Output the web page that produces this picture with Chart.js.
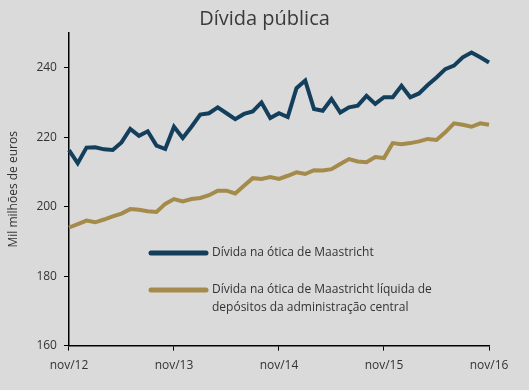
<!DOCTYPE html>
<html>
<head>
<meta charset="utf-8">
<script src="https://cdn.jsdelivr.net/npm/chart.js@4/dist/chart.umd.min.js"></script>
<style>
  html, body { margin: 0; padding: 0; background: #dadada; }
  #wrap { position: relative; width: 529px; height: 390px; }
  #title {
    position: absolute; left: 0; top: 6px; width: 529px;
    text-align: center; font: 20px/24px 'Open Sans', 'DejaVu Sans', sans-serif; color: #3a3a3a;
  }
</style>
</head>
<body>
<div id="wrap">
  <canvas id="chart0" width="529" height="390"></canvas>
  <div id="title">Dívida pública</div>
</div>
<script>
let ctx = document.getElementById("chart0").getContext("2d");

// monthly, nov/12 .. nov/16
const months = ["jan", "fev", "mar", "abr", "mai", "jun", "jul", "ago", "set", "out", "nov", "dez"];
const labels = [];
for (let y = 2012; y <= 2016; y++) {
  for (let m = 0; m < 12; m++) {
    if ((y === 2012 && m < 10) || (y === 2016 && m > 10)) continue;
    labels.push(months[m] + "/" + String(y).slice(2));
  }
}

const dividaMaastricht = [
  216.3, 212.5, 217.0, 217.1, 216.5, 216.3, 218.5, 222.4, 220.4, 221.7,
  217.6, 216.6, 223.0, 219.8, 223.0, 226.5, 226.9, 228.6, 226.9, 225.2,
  226.7, 227.4, 230.0, 225.5, 226.9, 225.8, 234.1, 236.3, 228.1, 227.6,
  231.0, 227.1, 228.6, 229.1, 231.9, 229.6, 231.5, 231.5, 234.8, 231.5,
  232.6, 235.0, 237.2, 239.6, 240.6, 243.0, 244.4, 243.0, 241.5
];

const dividaLiquida = [
  194.0, 195.0, 196.0, 195.5, 196.3, 197.2, 198.0, 199.3, 199.1, 198.7,
  198.5, 200.8, 202.2, 201.5, 202.2, 202.5, 203.3, 204.6, 204.6, 203.8,
  206.0, 208.2, 208.0, 208.5, 208.0, 208.9, 209.9, 209.4, 210.5, 210.4,
  210.8, 212.3, 213.7, 213.0, 212.8, 214.3, 214.0, 218.3, 218.0, 218.3,
  218.8, 219.5, 219.2, 221.4, 224.0, 223.6, 223.0, 224.0, 223.6
];

const seriesNames = [
  ["Dívida na ótica de Maastricht"],
  ["Dívida na ótica de Maastricht líquida de", "depósitos da administração central"]
];

const blue = "#143f5c";
const gold = "#a48b4b";
const textColor = "#333333";
const fontFamily = "'Open Sans', 'DejaVu Sans', sans-serif";

// legend drawn inside the plot, lines with long samples
const legendPlugin = {
  id: "insideLegend",
  afterDraw(chart) {
    const c = chart.ctx;
    const items = [
      { color: blue, y: 253, text: seriesNames[0] },
      { color: gold, y: 290, text: seriesNames[1] }
    ];
    c.save();
    c.lineCap = "round";
    c.font = "12px " + fontFamily;
    c.fillStyle = textColor;
    c.textBaseline = "middle";
    items.forEach(it => {
      c.strokeStyle = it.color;
      c.lineWidth = 5;
      c.beginPath();
      c.moveTo(151, it.y);
      c.lineTo(206, it.y);
      c.stroke();
      it.text.forEach((t, i) => c.fillText(t, 212, it.y + i * 18));
    });
    c.restore();
  }
};

let chart = new Chart(ctx, {
  type: "line",
  data: {
    labels: labels,
    datasets: [
      {
        label: seriesNames[0].join(" "),
        data: dividaMaastricht,
        borderColor: blue,
        borderWidth: 4,
        pointRadius: 0,
        tension: 0
      },
      {
        label: seriesNames[1].join(" "),
        data: dividaLiquida,
        borderColor: gold,
        borderWidth: 4,
        pointRadius: 0,
        tension: 0
      }
    ]
  },
  options: {
    responsive: false,
    animation: false,
    layout: { padding: { left: 6, right: 40, top: 33, bottom: 9 } },
    plugins: {
      legend: { display: false },
      tooltip: { enabled: false },
      title: { display: false }
    },
    scales: {
      x: {
        offset: false,
        afterBuildTicks: scale => {
          scale.ticks = scale.ticks.filter(t => t.value % 12 === 0);
        },
        ticks: {
          autoSkip: false,
          maxRotation: 0,
          color: textColor,
          font: { family: fontFamily, size: 12 },
          padding: 8
        },
        grid: { drawOnChartArea: false, drawTicks: true, tickLength: 5, color: "#000" },
        border: { color: "#000", width: 1.5 }
      },
      y: {
        min: 160,
        max: 250,
        ticks: {
          stepSize: 20,
          includeBounds: false,
          color: textColor,
          font: { family: fontFamily, size: 12 },
          padding: 7
        },
        title: {
          display: true,
          text: "Mil milhões de euros",
          color: textColor,
          font: { family: fontFamily, size: 12 },
          padding: { top: 0, bottom: 9 }
        },
        grid: { drawOnChartArea: false, drawTicks: true, tickLength: 5, color: "#000" },
        border: { color: "#000", width: 1.5 }
      }
    }
  },
  plugins: [legendPlugin]
});
</script>
</body>
</html>
